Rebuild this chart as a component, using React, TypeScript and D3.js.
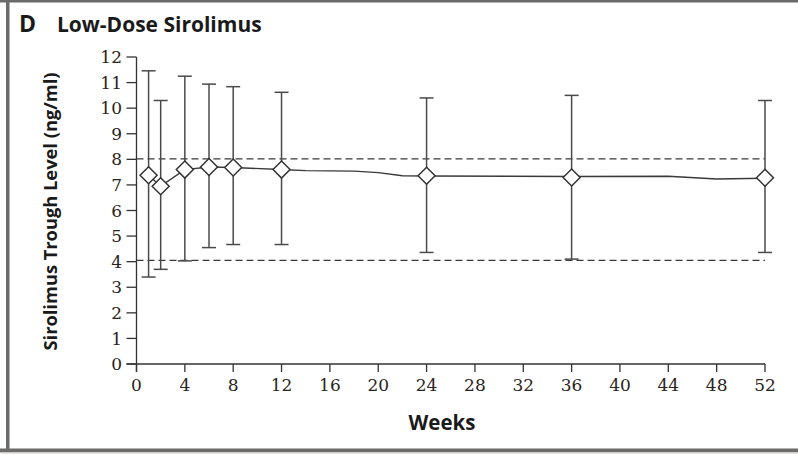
import React from "react";
import * as d3 from "d3";

// Weeks at which error bars/markers are shown
const markerWeeks = [1, 2, 4, 6, 8, 12, 24, 36, 52];
const markerMeans = [7.38, 6.95, 7.6, 7.7, 7.68, 7.6, 7.36, 7.29, 7.28];
const upperBounds = [11.46, 10.3, 11.25, 10.94, 10.84, 10.62, 10.4, 10.5, 10.3];
const lowerBounds = [3.4, 3.7, 4.03, 4.55, 4.67, 4.67, 4.36, 4.1, 4.36];

// Mean trajectory line (includes intermediate visits)
const lineWeeks = [1, 2, 4, 6, 8, 12, 14, 18, 20, 22, 24, 36, 44, 48, 52];
const lineMeans = [7.38, 6.95, 7.6, 7.7, 7.68, 7.6, 7.56, 7.54, 7.48, 7.36, 7.35, 7.33, 7.34, 7.23, 7.26];

// Target range (dashed reference lines)
const targetRange = [4.05, 8.02];

const xTicks = [0, 4, 8, 12, 16, 20, 24, 28, 32, 36, 40, 44, 48, 52];
const yTicks = [0, 1, 2, 3, 4, 5, 6, 7, 8, 9, 10, 11, 12];

const titleLetter = "D";
const titleText = "Low-Dose Sirolimus";
const xTitle = "Weeks";
const yTitle = "Sirolimus Trough Level (ng/ml)";

export default function App() {
  const W = 798;
  const H = 454;
  const x = d3.scaleLinear().domain([0, 52]).range([136.5, 765]);
  const y = d3.scaleLinear().domain([0, 12]).range([364, 57]);

  const line = d3
    .line<number>()
    .x((_, i) => x(lineWeeks[i]))
    .y((d) => y(d));

  const numFont = "'DejaVu Serif', serif";
  const sansFont = "'Open Sans', sans-serif";
  const axisColor = "#333";
  const tickLen = 8;
  const cap = 7;
  const dm = 8.5;

  return (
    <svg
      width={W}
      height={H}
      style={{ position: "absolute", left: 0, top: 0, background: "#fff" }}
    >
      {/* frame */}
      <rect x={0} y={0} width={798} height={2.5} fill="#6b6b6b" />
      <rect x={6} y={0} width={3.5} height={450} fill="#6b6b6b" />
      <rect x={0} y={448.5} width={798} height={4} fill="#6b6b6b" />
      <rect x={0} y={452.5} width={798} height={1.5} fill="#e8e2dc" />

      {/* title */}
      <text x={19} y={32} fontFamily={sansFont} fontWeight={700} fontSize={23} fill="#1a1a1a">
        {titleLetter}
      </text>
      <text x={57} y={32} fontFamily={sansFont} fontWeight={700} fontSize={21} fill="#1a1a1a">
        {titleText}
      </text>

      {/* dashed target lines */}
      {targetRange.map((v, i) => (
        <line
          key={"t" + i}
          x1={x(0)}
          x2={x(52)}
          y1={y(v)}
          y2={y(v)}
          stroke="#3a3a3a"
          strokeWidth={1.3}
          strokeDasharray="7,4"
        />
      ))}

      {/* axes */}
      <line x1={x(0)} x2={x(0)} y1={y(12)} y2={y(0) + tickLen} stroke={axisColor} strokeWidth={1.3} />
      <line x1={x(0) - tickLen - 2} x2={x(52)} y1={y(0)} y2={y(0)} stroke={axisColor} strokeWidth={1.3} />
      {yTicks.map((t) => (
        <g key={"y" + t}>
          <line x1={x(0) - tickLen - 2} x2={x(0)} y1={y(t)} y2={y(t)} stroke={axisColor} strokeWidth={1.3} />
          <text
            x={122}
            y={y(t)}
            dy="0.36em"
            textAnchor="end"
            fontFamily={numFont}
            fontSize={17}
            fill="#2a2420"
          >
            {t}
          </text>
        </g>
      ))}
      {xTicks.map((t) => (
        <g key={"x" + t}>
          <line x1={x(t)} x2={x(t)} y1={y(0)} y2={y(0) + tickLen} stroke={axisColor} strokeWidth={1.3} />
          <text
            x={x(t)}
            y={391}
            textAnchor="middle"
            fontFamily={numFont}
            fontSize={17}
            fill="#2a2420"
          >
            {t}
          </text>
        </g>
      ))}

      {/* axis titles */}
      <text x={442} y={430} textAnchor="middle" fontFamily={sansFont} fontWeight={700} fontSize={20.5} fill="#1a1a1a">
        {xTitle}
      </text>
      <text
        transform={`translate(57, ${(71 + 352) / 2}) rotate(-90)`}
        textAnchor="middle"
        fontFamily={sansFont}
        fontWeight={700}
        fontSize={18.3}
        fill="#1a1a1a"
      >
        {yTitle}
      </text>

      {/* error bars */}
      {markerWeeks.map((w, i) => (
        <g key={"e" + i} stroke="#4a4a4a" strokeWidth={1.5}>
          <line x1={x(w)} x2={x(w)} y1={y(upperBounds[i])} y2={y(lowerBounds[i])} />
          <line x1={x(w) - cap} x2={x(w) + cap} y1={y(upperBounds[i])} y2={y(upperBounds[i])} />
          <line x1={x(w) - cap} x2={x(w) + cap} y1={y(lowerBounds[i])} y2={y(lowerBounds[i])} />
        </g>
      ))}

      {/* mean line */}
      <path d={line(lineMeans) || ""} fill="none" stroke="#3a3a3a" strokeWidth={1.4} />

      {/* markers */}
      {markerWeeks.map((w, i) => {
        const cx = x(w);
        const cy = y(markerMeans[i]);
        return (
          <path
            key={"m" + i}
            d={`M${cx},${cy - dm}L${cx + dm},${cy}L${cx},${cy + dm}L${cx - dm},${cy}Z`}
            fill="#fff"
            stroke="#333"
            strokeWidth={1.5}
          />
        );
      })}
    </svg>
  );
}
